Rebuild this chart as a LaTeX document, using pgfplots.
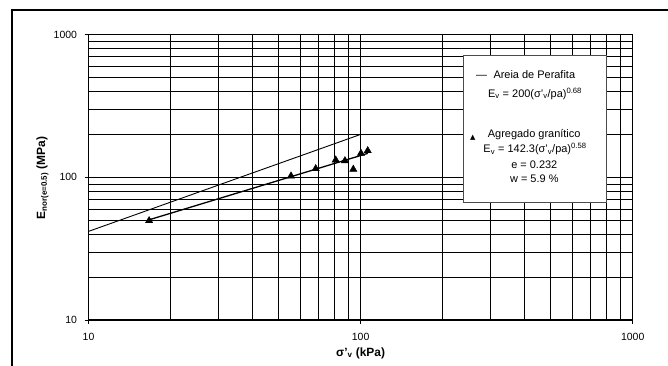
\documentclass[border=0pt]{standalone}
\usepackage{pgfplots}
\pgfplotsset{compat=1.18}
\usepackage{fontspec}
\setmainfont{Liberation Sans}
\newfontfamily\symfont{DejaVu Sans}
\begin{document}
\begin{tikzpicture}[x=1bp,y=1bp]
\begin{axis}[
 at={(0,0)}, anchor=south west,
 scale only axis, width=544.2bp, height=285.3bp,
 xmode=log, ymode=log,
 xmin=10, xmax=1000, ymin=10, ymax=1000,
 xtick={10,100,1000}, xticklabels={10,100,1000},
 ytick={10,100,1000}, yticklabels={10,100,1000},
 minor xtick={20,30,40,50,60,70,80,90,200,300,400,500,600,700,800,900},
 minor ytick={20,30,40,50,60,70,80,90,200,300,400,500,600,700,800,900},
 grid=both,
 major grid style={black, line width=0.7bp},
 minor grid style={black, line width=0.7bp},
 minor tick length=0pt,
 major tick length=4bp,
 tick align=outside,
 xtick pos=bottom, ytick pos=left,
 tick style={black, line width=0.8bp},
 axis line style={black, line width=1.2bp},
 ticklabel style={font=\fontsize{10.5}{12}\selectfont},
 xticklabel style={yshift=-6bp},
 yticklabel style={xshift=-4bp},
]
\addplot[black, line width=0.9bp] coordinates {(10,41.8) (100,200)};
\addplot[black, line width=1.3bp] coordinates {(16.7,50.4) (106.2,147.3)};
\addplot[only marks, mark=triangle*, mark size=4.2bp, black] coordinates {
(16.7,49.7) (55.5,102.2) (68.4,115) (81.0,132.3) (87.6,130.8) (94.0,113.9) (100.3,147.4) (106.2,153.8)};
\end{axis}
% legend box
\draw[gray!60!black, fill=white, line width=1bp] (374.8,117.7) rectangle (517.5,265);
\begingroup
\fontsize{11}{13}\selectfont
\node[anchor=base, inner sep=0] at (393,241.7) {—};
\node[anchor=base west, inner sep=0] at (404.8,241.7) {Areia de Perafita};
\node[anchor=base, inner sep=0] at (446.5,222.7) {E\textsubscript{v} = 200(σ'\textsubscript{v}/pa)\textsuperscript{0.68}};
\node[anchor=base, inner sep=0] at (384.2,181) {\symfont\fontsize{7}{8}\selectfont ▲};
\node[anchor=base west, inner sep=0] at (399.2,182.7) {Agregado granítico};
\node[anchor=base, inner sep=0] at (446.5,167.3) {E\textsubscript{v} = 142.3(σ'\textsubscript{v}/pa)\textsuperscript{0.58}};
\node[anchor=base, inner sep=0] at (445.8,152) {e = 0.232};
\node[anchor=base, inner sep=0] at (445.8,138) {w = 5.9 \%};
\endgroup
% axis labels
\node[font=\fontsize{12}{14}\selectfont\bfseries] at (272.1,-33) {σ'\textsubscript{v} (kPa)};
\node[font=\fontsize{12}{14}\selectfont\bfseries, rotate=90] at (-46,142) {E\textsubscript{nor(e=0.5)} (MPa)};
% outer frame
\draw[line width=2bp] (-76.5,-60) -- (-76.5,310) -- (600,310);
\pgfresetboundingbox
\path[use as bounding box] (-88.5,-45) rectangle (579.5,320);
\end{tikzpicture}
\end{document}
